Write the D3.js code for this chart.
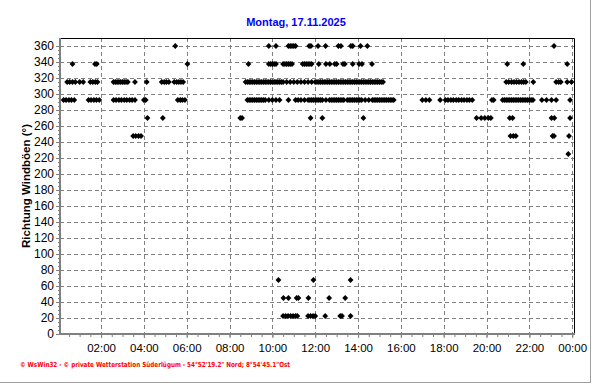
<!DOCTYPE html>
<html><head><meta charset="utf-8">
<script src="https://cdn.jsdelivr.net/npm/d3@7"></script>
<style>
html,body{margin:0;padding:0;background:#fff;}
svg{display:block;font-family:"Liberation Sans",Arial,sans-serif;}
</style></head>
<body>
<svg id="c" width="592" height="384"></svg>
<script>
// ---- data (time of day, direction in degrees) ----
const title = "Montag, 17.11.2025";
const yTitle = "Richtung Windböen (°)";
const footer = "© WsWin32  -  © private Wetterstation Süderlügum  -  54°52'19.2\" Nord; 8°54'45.1\"Ost";
const xTickMinutes = [120,240,360,480,600,720,840,960,1080,1200,1320,1440];
const xTickLabels = ["02:00","04:00","06:00","08:00","10:00","12:00","14:00","16:00","18:00","20:00","22:00","00:00"];
const yTicks = [0,20,40,60,80,100,120,140,160,180,200,220,240,260,280,300,320,340,360];

const dir360 = ["05:28","09:50","10:10","10:45","10:50","10:55","11:00","11:05","11:43","11:48","12:08","12:29","13:05","13:12","13:40","13:45","14:07","14:26","23:09"];
const dir337 = ["00:40","01:43","01:48","06:02","08:53","09:50","09:55","10:00","10:05","10:10","10:30","10:35","10:40","10:45","10:50","10:55","11:25","11:30","11:35","11:40","11:45","11:50","12:10","12:30","12:41","12:55","13:00","13:18","13:23","13:45","14:03","14:11","14:39","20:58","21:43","23:46"];
const dir315 = ["00:25","00:32","00:40","00:48","01:00","01:10","01:30","01:37","01:44","01:50",
"02:35","02:40","02:45","02:50","02:55","03:00","03:05","03:10","03:15","03:35","04:08",
"04:50","04:57","05:03","05:10","05:25","05:32","05:38","05:44","05:50",
"08:45","08:50","08:55","09:00","09:05","09:10","09:15","09:20","09:25","09:30","09:35","09:40","09:45","09:50","09:55","10:00","10:05","10:10","10:15","10:20","10:25","10:30",
"10:40","10:50","11:00","11:10","11:20","11:30","11:40","11:50",
"12:00","12:05","12:10","12:15","12:20","12:25","12:30","12:35","12:40","12:45","12:50","12:55","13:00","13:05","13:10","13:15","13:20","13:25","13:30","13:35","13:40","13:45","13:50","13:55","14:00","14:05","14:10","14:15","14:20","14:25","14:30","14:35","14:40","14:45","14:50","14:55","15:00","15:05","15:10",
"20:55","21:02","21:10","21:17","21:24","21:31","21:38","21:44","21:50","22:11",
"23:15","23:22","23:28","23:46","23:58"];
const dir292 = ["00:15","00:22","00:30","00:37","00:45",
"01:25","01:32","01:40","01:47","01:55",
"02:35","02:42","02:50","02:57","03:05","03:12","03:20","03:27","03:35",
"04:00","04:05",
"05:35","05:42","05:48","05:55",
"08:50","08:55","09:00","09:05","09:10","09:15","09:20","09:25","09:30","09:35","09:40","09:50","10:00","10:10","10:20",
"10:45",
"11:05","11:12","11:20","11:30","11:40","11:45","11:50","11:55","12:00","12:05","12:10","12:15","12:20","12:30","12:40","12:45","12:50","12:55","13:00","13:05","13:10","13:15","13:20","13:30","13:35","13:40","13:45","13:50","13:55","14:00","14:05","14:10","14:20","14:30","14:40","14:45","14:50","14:55","15:00","15:05","15:10","15:15","15:20","15:25","15:30","15:35","15:40",
"17:00","17:10","17:20","17:50",
"18:05","18:12","18:20","18:27","18:35","18:42","18:50","18:57","19:05","19:12","19:20",
"20:15","20:20",
"20:45","20:50","20:55","21:00","21:05","21:10","21:15","21:20","21:25","21:30","21:35","21:40","21:45","21:50","21:55","22:00","22:05","22:10",
"22:35","22:48","23:02","23:15","23:54"];
const dir270 = ["04:10","04:53","08:30","08:35","11:47","12:20","14:15","19:32","19:45","19:55","20:05","20:12","21:05","21:13","23:02","23:10","23:54"];
const dir247 = ["03:30","03:37","03:45","03:52","21:07","21:15","21:22","23:05","23:09","23:51"];
const dir225 = ["23:49"];
const dir67 = ["10:17","11:55","13:39"];
const dir45 = ["10:31","10:45","11:08","11:13","11:41","12:39","13:24"];
const dir22 = ["10:30","10:37","10:44","10:51","10:58","11:05","11:10","11:40","11:47","11:54","12:00","12:28","13:10","13:15","13:39"];

const seriesDirs = [360, 337.5, 315, 292.5, 270, 247.5, 225, 67.5, 45, 22.5];
const seriesTimes = [dir360, dir337, dir315, dir292, dir270, dir247, dir225, dir67, dir45, dir22];

// ---- build ----
const toMin = s => { const p = s.split(":"); return (+p[0]) * 60 + (+p[1]); };
const points = [];
seriesDirs.forEach((v, i) => seriesTimes[i].forEach(t => points.push({ t: toMin(t), v })));

const L = 60, R = 574, T = 38, B = 334;
const x = d3.scaleLinear().domain([5, 1445]).range([L, R]);
const y = d3.scaleLinear().domain([0, 370]).range([B, T]);

const svg = d3.select("#c");

// outer frame (light grey right/bottom edge)
svg.append("line").attr("x1", 0).attr("x2", 591).attr("y1", 382.5).attr("y2", 382.5).attr("stroke", "#a0a0a0");
svg.append("line").attr("x1", 590.5).attr("x2", 590.5).attr("y1", 0).attr("y2", 383).attr("stroke", "#a0a0a0");

// title
svg.append("text").attr("x", 296).attr("y", 26).attr("text-anchor", "middle")
  .attr("fill", "#0000ff").attr("font-weight", "bold").attr("font-size", "11px").text(title);

// grid
const g = svg.append("g");
g.selectAll("line.h").data(yTicks.filter(d => d > 0)).enter().append("line")
  .attr("x1", L).attr("x2", R).attr("y1", d => Math.round(y(d)) + 0.5).attr("y2", d => Math.round(y(d)) + 0.5)
  .attr("stroke", "#808080").attr("stroke-dasharray", "4,3");
g.selectAll("line.v").data(xTickMinutes).enter().append("line")
  .attr("y1", T).attr("y2", B).attr("x1", d => Math.round(x(d)) + 0.5).attr("x2", d => Math.round(x(d)) + 0.5)
  .attr("stroke", "#808080").attr("stroke-dasharray", "4,3");

// top/right border
svg.append("path").attr("d", `M${L},${T + 0.5}H${R + 0.5}V${B}`).attr("fill", "none").attr("stroke", "#000");

// axes
const yAxis = d3.axisLeft(y).tickValues(yTicks).tickSize(4).tickPadding(2).tickFormat(d3.format("d"));
const ya = svg.append("g").attr("transform", `translate(${L},0)`).call(yAxis);
const yMinor = d3.axisLeft(y).tickValues(d3.range(0, 365, 5)).tickSize(2).tickFormat("");
const ym = svg.append("g").attr("transform", `translate(${L},0)`).call(yMinor);
const xAxis = d3.axisBottom(x).tickValues(xTickMinutes).tickSize(4).tickPadding(6).tickFormat((d, i) => xTickLabels[i]);
const xa = svg.append("g").attr("transform", `translate(0,${B})`).call(xAxis);
const xMinor = d3.axisBottom(x).tickValues(d3.range(30, 1441, 30)).tickSize(3).tickFormat("");
const xm = svg.append("g").attr("transform", `translate(0,${B})`).call(xMinor);

[ya, ym, xa, xm].forEach(a => {
  a.select(".domain").remove();
  a.selectAll(".tick line").attr("stroke", "#808080");
});
ya.selectAll("text").attr("font-size", "12px").attr("fill", "#000").attr("font-family", "Liberation Sans, Arial, sans-serif");
xa.selectAll("text").attr("font-size", "11.5px").attr("fill", "#000").attr("font-family", "Liberation Sans, Arial, sans-serif");

// axis lines (grey, thick)
svg.append("line").attr("x1", L).attr("x2", L).attr("y1", T).attr("y2", B + 1).attr("stroke", "#808080").attr("stroke-width", 2);
svg.append("line").attr("x1", L - 1).attr("x2", R + 1).attr("y1", B).attr("y2", B).attr("stroke", "#808080").attr("stroke-width", 2);

// y title
svg.append("text").attr("transform", `translate(30,${(T + B) / 2}) rotate(-90)`).attr("text-anchor", "middle")
  .attr("font-weight", "bold").attr("font-size", "11.5px").attr("fill", "#000").text(yTitle);

// points
const sym = d3.symbol().type(d3.symbolSquare).size(17);
svg.append("g").selectAll("path").data(points).enter().append("path")
  .attr("d", sym)
  .attr("transform", d => `translate(${x(d.t)},${y(d.v)}) rotate(45)`)
  .attr("fill", "#000");

// footer
svg.append("text").attr("x", 20).attr("y", 367).attr("fill", "#ff0000")
  .attr("font-family", "DejaVu Sans, sans-serif").attr("font-weight", "bold").attr("font-size", "7px")
  .attr("textLength", 270).attr("lengthAdjust", "spacingAndGlyphs").text(footer);
</script>
</body></html>
